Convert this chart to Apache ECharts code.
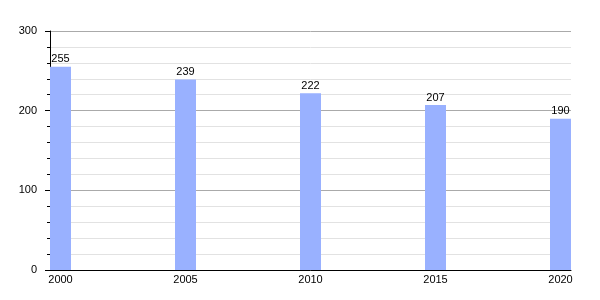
<!DOCTYPE html>
<html><head><meta charset="utf-8">
<script src="https://cdn.jsdelivr.net/npm/echarts@6/dist/echarts.min.js"></script>
<style>html,body{margin:0;padding:0;background:#fff}#c{width:600px;height:300px}</style>
</head><body><div id="c"></div>
<script>
const years = [2000, 2005, 2010, 2015, 2020];
const values = [255, 239, 222, 207, 190];
const yTicks = [0, 100, 200, 300];

const chart = echarts.init(document.getElementById('c'), null, {renderer: 'canvas'});
const font = 'Liberation Sans, Arial, sans-serif';
chart.setOption({
  animation: false,
  grid: {left: 50, right: 29, top: 31, bottom: 30, containLabel: false},
  xAxis: {
    type: 'value', min: 2000 - 0.42, max: 2020 + 0.42,
    axisLine: {show: true, lineStyle: {color: '#000', width: 1}},
    axisTick: {show: false},
    splitLine: {show: false},
    axisLabel: {customValues: years, color: '#000', fontSize: 11, fontFamily: font, margin: 4, formatter: v => String(Math.round(v))}
  },
  yAxis: {
    type: 'value', min: 0, max: 300, interval: 100,
    axisLine: {show: true, lineStyle: {color: '#000', width: 1}},
    axisTick: {show: true, length: 5, lineStyle: {color: '#000'}},
    minorTick: {show: true, splitNumber: 5, length: 3, lineStyle: {color: '#000'}},
    splitLine: {show: true, lineStyle: {color: '#aaaaaa', width: 1}},
    minorSplitLine: {show: true, lineStyle: {color: '#e2e2e2', width: 1}},
    axisLabel: {color: '#000', fontSize: 11, fontFamily: font, margin: 13}
  },
  series: [{
    type: 'bar',
    data: years.map((y, i) => [y, values[i]]),
    barWidth: 21,
    itemStyle: {color: '#99b1ff'},
    label: {show: true, position: 'top', distance: 2, color: '#000', fontSize: 11, fontFamily: font}
  }]
});
</script></body></html>
